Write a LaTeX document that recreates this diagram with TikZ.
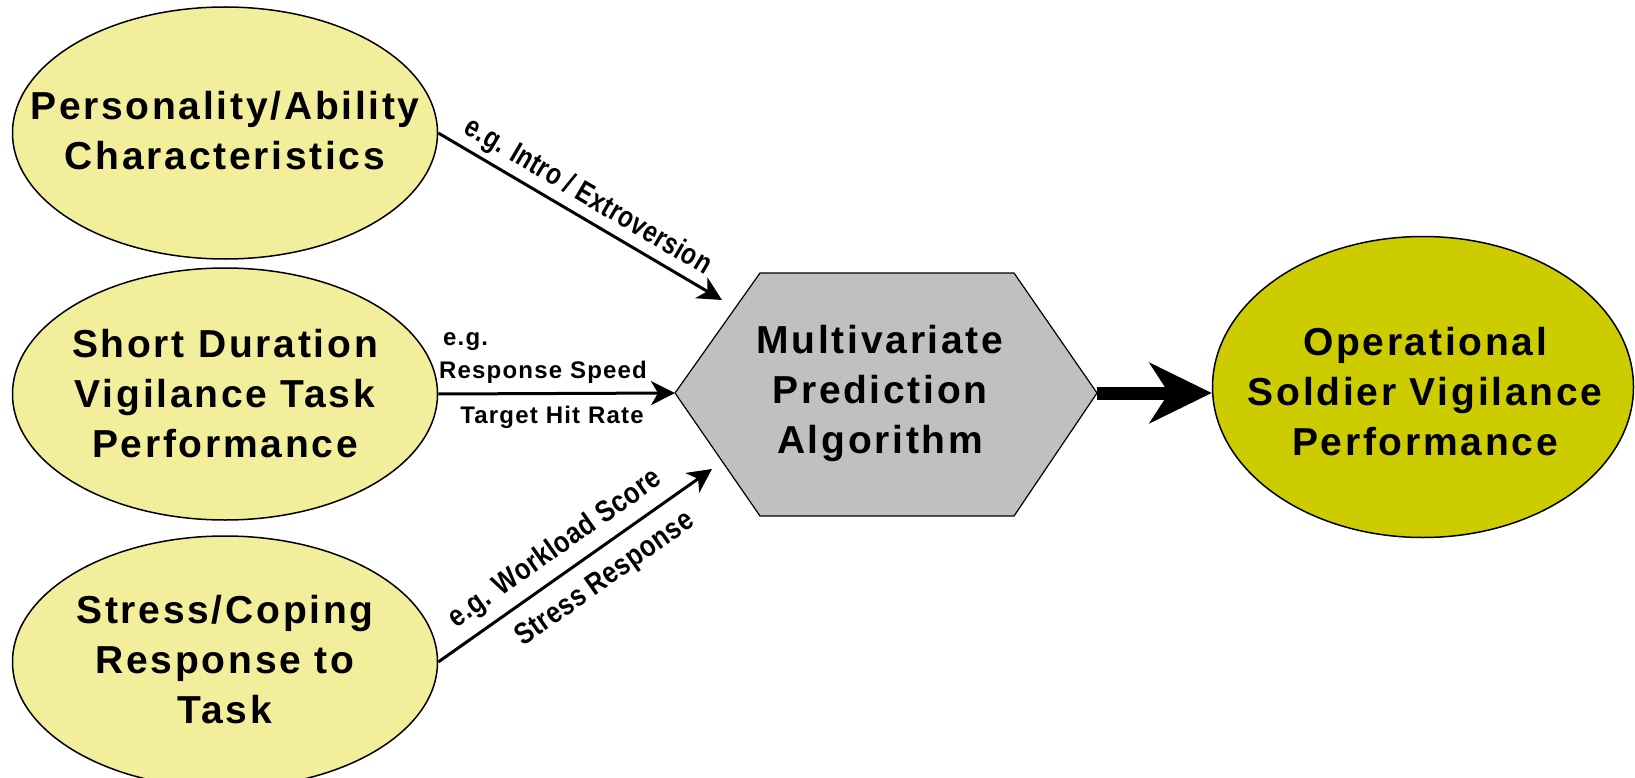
\documentclass[tikz,border=0pt]{standalone}
\usepackage{fontspec}
\usepackage{graphicx}
\setmainfont{Liberation Sans}
\newfontfamily\bigfont[LetterSpace=7]{Liberation Sans}
\newfontfamily\midfont[LetterSpace=5]{Liberation Sans}
\newfontfamily\smallfont[LetterSpace=2]{Liberation Sans}
\usetikzlibrary{shapes.geometric,arrows.meta}
\definecolor{paleyellow}{RGB}{242,238,155}
\definecolor{outyellow}{RGB}{204,204,0}
\definecolor{hexgray}{RGB}{192,192,192}
\begin{document}
\begin{tikzpicture}[x=1pt,y=-1pt,
  inell/.style={ellipse, draw=black, line width=1.5pt, fill=paleyellow,
    minimum width=425pt, minimum height=252pt, inner sep=0pt},
  outell/.style={ellipse, draw=black, line width=1.5pt, fill=outyellow,
    minimum width=421pt, minimum height=301pt, inner sep=0pt},
  bigtxt/.style={align=center, inner sep=0pt,
    font=\bigfont\bfseries\fontsize{39}{50}\selectfont},
  hexshape/.style={draw=black, line width=1.2pt, fill=hexgray},
  thinarrow/.style={line width=3pt, -{Stealth[length=24pt,width=24pt,inset=7pt]}},
  bigarrow/.style={line width=13pt, -{Stealth[length=62pt,width=60pt,inset=19pt]}},
  slab/.style={inner sep=6pt, font=\smallfont\bfseries\fontsize{30}{34}\selectfont},
  hlab/.style={inner sep=0pt, font=\midfont\bfseries\fontsize{24}{27}\selectfont}
]
\useasboundingbox (0,0) rectangle (1635,778);

% input ellipses
\node[inell] (p1) at (225,133) {};
\node[bigtxt] (p1t) at (225,131) {Personality/Ability\\Characteristics};
\node[inell] (p2) at (225,394) {};
\node[bigtxt] (p2t) at (225,394) {Short Duration\\Vigilance Task\\Performance};
\node[inell] (p3) at (225,662) {};
\node[bigtxt] (p3t) at (225,660) {Stress/Coping\\Response to\\Task};

% hexagon
\coordinate (hW) at (675,393);
\coordinate (hNW) at (760,273);
\coordinate (hNE) at (1014,273);
\coordinate (hE) at (1097,393);
\coordinate (hSE) at (1014,516);
\coordinate (hSW) at (760,516);
\draw[hexshape] (hW) -- (hNW) -- (hNE) -- (hE) -- (hSE) -- (hSW) -- cycle;
\node[bigtxt] (alg) at (880,393) {Multivariate\\Prediction\\Algorithm};

% output ellipse
\node[outell] (out) at (1423,387) {};
\node[bigtxt] (outt) at (1425,392) {Operational\\Soldier Vigilance\\Performance};

% arrow end points
\coordinate (in1) at (722,300);
\coordinate (in3) at (712,469);

% connectors
\draw[thinarrow] (p1.east) -- node[pos=0.49, sloped, above, slab, inner sep=5pt] (l1) {\scalebox{0.8}[1]{e.g. Intro / Extroversion}} (in1);
\draw[thinarrow] (p2.east) -- (hW);
\draw[thinarrow] (p3.east) -- node[pos=0.48, sloped, above, slab, inner sep=9pt] (l3a) {\scalebox{0.84}[1]{e.g. Workload Score}}
  node[pos=0.55, sloped, below, slab, inner sep=14pt] (l3b) {\scalebox{0.84}[1]{Stress Response}} (in3);
\draw[bigarrow] (hE) -- (hE -| out.west);

% horizontal labels
\node[hlab, anchor=west] (l2a) at (443,342) {e.g.};
\node[hlab] (l2b) at (543,372) {Response Speed};
\node[hlab] (l2c) at (552,417) {Target Hit Rate};
\end{tikzpicture}
\end{document}
